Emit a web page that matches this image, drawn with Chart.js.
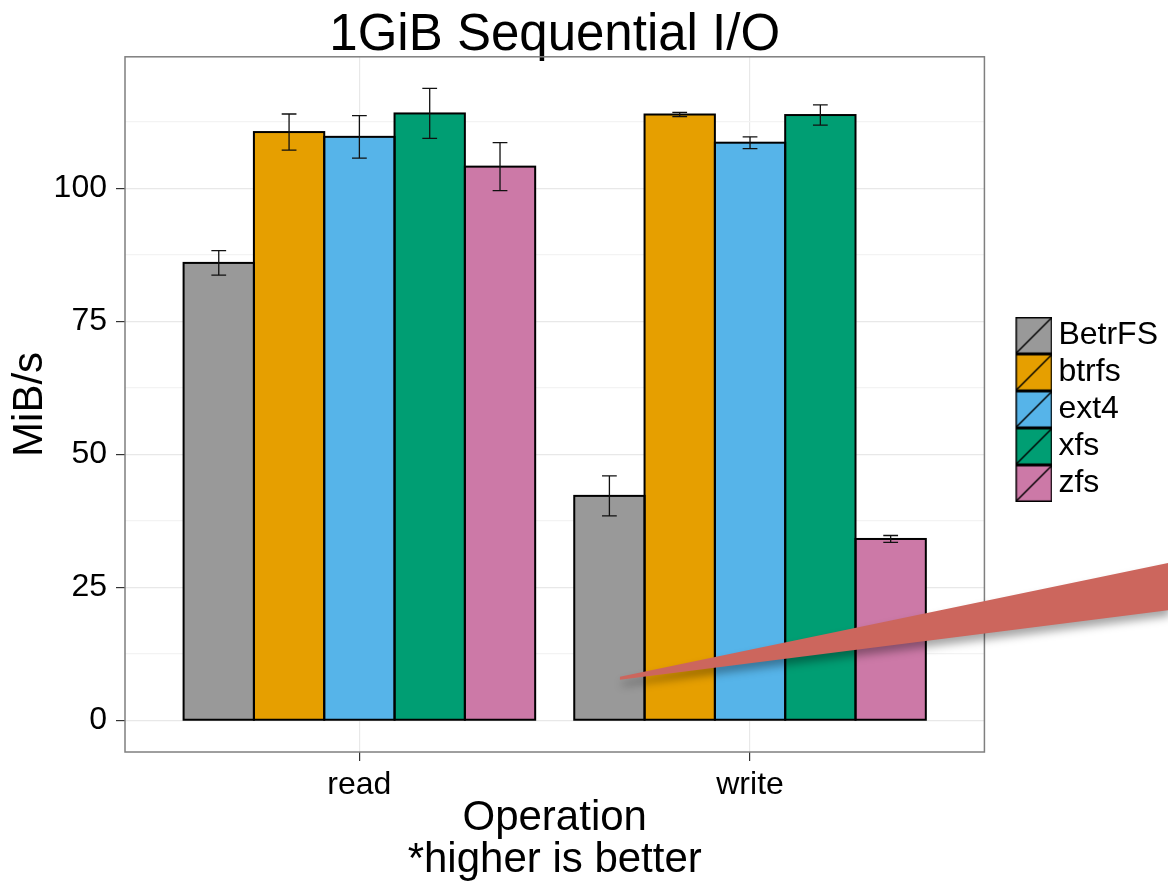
<!DOCTYPE html>
<html>
<head>
<meta charset="utf-8">
<title>1GiB Sequential I/O</title>
<script src="https://cdn.jsdelivr.net/npm/chart.js@4.4.1/dist/chart.umd.min.js"></script>
<style>
  html, body { margin: 0; padding: 0; background: #fff; }
  #wrap { width: 1168px; height: 885px; position: relative; }
</style>
</head>
<body>
<div id="wrap"><canvas id="chart"></canvas></div>
<script>
const operations = ["read", "write"];
const filesystems = ["BetrFS", "btrfs", "ext4", "xfs", "zfs"];

// mean throughput in MiB/s, [read, write]
const betrfs = [86.0, 42.2];
const btrfs = [110.6, 113.9];
const ext4 = [109.7, 108.6];
const xfs = [114.1, 113.8];
const zfs = [104.1, 34.1];

// half height of the error bars, [read, write]
const betrfsErr = [2.3, 3.75];
const btrfsErr = [3.4, 0.4];
const ext4Err = [4.0, 1.1];
const xfsErr = [4.7, 1.9];
const zfsErr = [4.5, 0.65];

const yTicks = [0, 25, 50, 75, 100];
const yMinorTicks = [12.5, 37.5, 62.5, 87.5, 112.5];

const colors = ["#999999", "#E69F00", "#56B4E9", "#009E73", "#CC79A7"];
const FONT = "'Liberation Sans', Arial, Helvetica, sans-serif";

const means = [betrfs, btrfs, ext4, xfs, zfs];
const errs = [betrfsErr, btrfsErr, ext4Err, xfsErr, zfsErr];

// legend key: square with a diagonal, drawn on the right of a wider canvas
function legendKey(color) {
  const c = document.createElement("canvas");
  c.width = 73;
  c.height = 37;
  const g = c.getContext("2d");
  g.fillStyle = color;
  g.fillRect(36.5, 0.5, 36, 36);
  g.strokeStyle = "#000";
  g.lineWidth = 1.5;
  g.strokeRect(36.75, 0.75, 35.5, 35.5);
  g.beginPath();
  g.moveTo(36.75, 36.25);
  g.lineTo(72.25, 0.75);
  g.stroke();
  return c;
}

const datasets = filesystems.map((name, i) => ({
  label: name,
  data: operations.map((op, j) => ({ x: j + 1, y: means[i][j] })),
  err: errs[i],
  backgroundColor: colors[i],
  borderWidth: 0,
  pointStyle: legendKey(colors[i]),
  categoryPercentage: 0.9,
  barPercentage: 1
}));

// black outlines + error bars
const barDecor = {
  id: "barDecor",
  afterDatasetsDraw(chart) {
    const ctx = chart.ctx;
    const ys = chart.scales.y;
    ctx.save();
    ctx.strokeStyle = "#000";
    ctx.lineWidth = 2;
    chart.data.datasets.forEach((ds, i) => {
      chart.getDatasetMeta(i).data.forEach((bar) => {
        const p = bar.getProps(["x", "y", "base", "width"], true);
        ctx.strokeRect(p.x - p.width / 2, p.y, p.width, p.base - p.y);
      });
    });
    ctx.strokeStyle = "#111";
    ctx.lineWidth = 1.3;
    chart.data.datasets.forEach((ds, i) => {
      chart.getDatasetMeta(i).data.forEach((bar, j) => {
        const p = bar.getProps(["x", "width"], true);
        const v = ds.data[j].y, e = ds.err[j];
        const hi = ys.getPixelForValue(v + e);
        const lo = ys.getPixelForValue(v - e);
        const half = p.width * 0.105;
        ctx.beginPath();
        ctx.moveTo(p.x, hi); ctx.lineTo(p.x, lo);
        ctx.moveTo(p.x - half, hi); ctx.lineTo(p.x + half, hi);
        ctx.moveTo(p.x - half, lo); ctx.lineTo(p.x + half, lo);
        ctx.stroke();
      });
    });
    // panel border
    const a = chart.chartArea;
    ctx.strokeStyle = "#7f7f7f";
    ctx.lineWidth = 1.5;
    ctx.strokeRect(a.left, a.top, a.right - a.left, a.bottom - a.top);
    ctx.restore();
  }
};

// red callout wedge pointing at the BetrFS write bar
const callout = {
  id: "callout",
  afterDraw(chart) {
    const ctx = chart.ctx;
    const ys = chart.scales.y;
    const bar = chart.getDatasetMeta(0).data[1];
    const tipX = bar.x + bar.width * 0.15;
    const tipY = ys.getPixelForValue(7.9);
    const endX = chart.width;
    ctx.save();
    ctx.shadowColor = "rgba(0,0,0,0.35)";
    ctx.shadowBlur = 8;
    ctx.shadowOffsetX = 2;
    ctx.shadowOffsetY = 6;
    ctx.fillStyle = "#cc665d";
    ctx.beginPath();
    ctx.moveTo(tipX, tipY - 1.5);
    ctx.lineTo(endX, ys.getPixelForValue(29.6));
    ctx.lineTo(endX, ys.getPixelForValue(20.7));
    ctx.lineTo(tipX, tipY + 1.5);
    ctx.closePath();
    ctx.fill();
    ctx.restore();
  }
};

new Chart(document.getElementById("chart"), {
  type: "bar",
  data: { datasets: datasets },
  options: {
    responsive: true,
    maintainAspectRatio: false,
    animation: false,
    devicePixelRatio: 1,
    layout: { padding: 0 },
    plugins: {
      tooltip: { enabled: false },
      title: {
        display: true,
        text: "1GiB Sequential I/O",
        fullSize: false,
        color: "#000",
        font: { family: FONT, size: 51, weight: "normal", lineHeight: 0.8 },
        padding: { top: 16, bottom: 0 }
      },
      legend: {
        position: "right",
        fullSize: false,
        // empty title, only nudges the keys down a little
        title: { display: true, text: "", font: { size: 10, lineHeight: 1 }, padding: 0 },
        labels: {
          usePointStyle: true,
          pointStyleWidth: 53,
          boxHeight: 32,
          padding: 5,
          color: "#000",
          font: { family: FONT, size: 32 }
        }
      }
    },
    scales: {
      x: {
        type: "linear",
        min: 0.4,
        max: 2.6,
        bounds: "data",
        offset: false,
        afterBuildTicks: (s) => { s.ticks = operations.map((o, j) => ({ value: j + 1 })); },
        afterFit: (s) => { s.height = 133; },
        ticks: {
          callback: (v) => operations[v - 1],
          color: "#000",
          font: { family: FONT, size: 32 },
          padding: 5,
          maxRotation: 0,
          autoSkip: false
        },
        grid: {
          offset: false,
          color: "#e8e8e8",
          lineWidth: 1.2,
          tickLength: 9,
          tickColor: "#333",
          tickWidth: 1.2
        },
        border: { display: false },
        title: {
          display: true,
          text: ["Operation", "*higher is better"],
          color: "#000",
          font: { family: FONT, size: 42, lineHeight: 1 },
          padding: { top: 0, bottom: 4 }
        }
      },
      y: {
        min: -5.95,
        max: 124.75,
        bounds: "data",
        afterBuildTicks: (s) => {
          s.ticks = yTicks.concat(yMinorTicks).sort((a, b) => a - b).map((v) => ({ value: v }));
        },
        afterFit: (s) => { s.width = 125; },
        ticks: {
          callback: (v) => (yTicks.includes(v) ? String(v) : ""),
          color: "#000",
          font: { family: FONT, size: 32 },
          padding: 9,
          autoSkip: false
        },
        grid: {
          color: (c) => (c.tick && yTicks.includes(c.tick.value) ? "#e8e8e8" : "#f3f3f3"),
          tickColor: (c) => (c.tick && yTicks.includes(c.tick.value) ? "#333" : "rgba(0,0,0,0)"),
          lineWidth: 1.2,
          tickLength: 9,
          tickWidth: 1.2
        },
        border: { display: false },
        title: {
          display: true,
          text: "MiB/s",
          color: "#000",
          font: { family: FONT, size: 42, lineHeight: 1 },
          padding: { top: 9, bottom: 0 }
        }
      }
    }
  },
  plugins: [barDecor, callout]
});
</script>
</body>
</html>
